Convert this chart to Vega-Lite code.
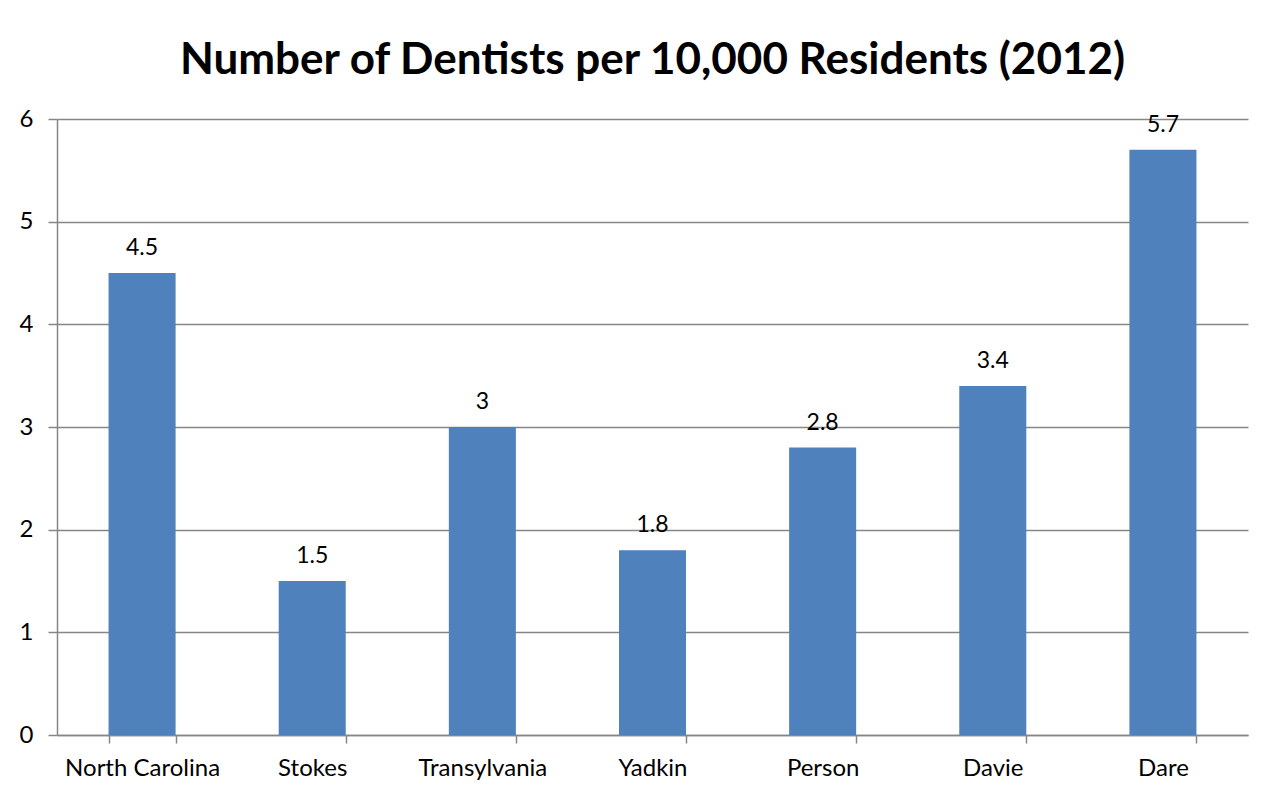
{
  "$schema": "https://vega.github.io/schema/vega-lite/v6.json",
  "autosize": {"type": "none"},
  "width": 1191,
  "height": 616,
  "padding": {"left": 57, "top": 119, "right": 36, "bottom": 64},
  "background": "white",
  "title": {
    "text": "Number of Dentists per 10,000 Residents (2012)",
    "font": "Lato",
    "fontSize": 44,
    "fontWeight": "bold",
    "color": "#000000",
    "anchor": "middle",
    "offset": 24
  },
  "data": {
    "values": [
      {"region": "North Carolina", "value": 4.5},
      {"region": "Stokes", "value": 1.5},
      {"region": "Transylvania", "value": 3},
      {"region": "Yadkin", "value": 1.8},
      {"region": "Person", "value": 2.8},
      {"region": "Davie", "value": 3.4},
      {"region": "Dare", "value": 5.7}
    ]
  },
  "encoding": {
    "x": {
      "field": "region",
      "type": "nominal",
      "sort": null,
      "scale": {"paddingInner": 0.606, "paddingOuter": 0.303},
      "axis": {
        "title": null,
        "labelAngle": 0,
        "labelFont": "Lato",
        "labelFontSize": 24,
        "labelColor": "#000000",
        "labelPadding": 13,
        "tickBand": "extent",
        "tickSize": 8,
        "tickColor": "#868686",
        "domainColor": "#868686",
        "domainWidth": 1.5,
        "tickWidth": 1.5
      }
    },
    "y": {
      "field": "value",
      "type": "quantitative",
      "scale": {"domain": [0, 6], "nice": false},
      "axis": {
        "title": null,
        "values": [0, 1, 2, 3, 4, 5, 6],
        "labelFont": "Lato",
        "labelFontSize": 24,
        "labelColor": "#000000",
        "labelPadding": 15,
        "tickSize": 9,
        "tickColor": "#868686",
        "domainColor": "#868686",
        "gridColor": "#868686",
        "domainWidth": 1.5,
        "tickWidth": 1.5,
        "gridWidth": 1.5
      }
    }
  },
  "layer": [
    {"mark": {"type": "bar", "color": "#4F81BD"}},
    {
      "mark": {"type": "text", "baseline": "bottom", "dy": -13, "font": "Lato", "fontSize": 23, "color": "#000000"},
      "encoding": {"text": {"field": "value", "type": "quantitative"}}
    }
  ],
  "config": {"view": {"stroke": null}}
}
